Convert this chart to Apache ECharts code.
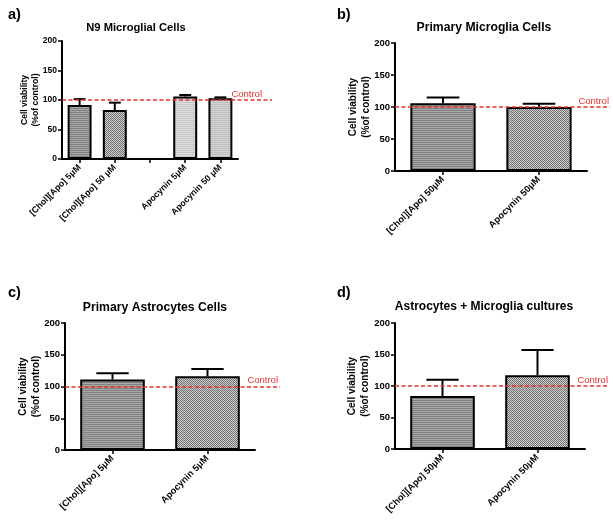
<!DOCTYPE html>
<html>
<head>
<meta charset="utf-8">
<script src="https://cdn.jsdelivr.net/npm/echarts@6/dist/echarts.min.js"></script>
<style>html,body{margin:0;padding:0;background:#fff;}#c{width:613px;height:526px;}</style>
</head>
<body>
<div id="c"></div>
<script>
// ---- data ----
const catsA = ['[Chol][Apo] 5\u03bcM', '[Chol][Apo] 50 \u03bcM', '', 'Apocynin 5\u03bcM', 'Apocynin 50 \u03bcM'];
const valsA = [91.5, 83, '-', 106, 103];
const errsA = [10, 12.5, '-', 2.5, 1.5];

const catsB = ['[Chol][Apo] 50\u03bcM', 'Apocynin 50\u03bcM'];
const valsB = [106, 100];
const errsB = [9, 5];

const catsC = ['[Chol][Apo] 5\u03bcM', 'Apocynin 5\u03bcM'];
const valsC = [111, 116];
const errsC = [10, 11.5];

const catsD = ['[Chol][Apo] 50\u03bcM', 'Apocynin 50\u03bcM'];
const valsD = [84, 117];
const errsD = [26, 40];

const yTicks = [0, 50, 100, 150, 200];
const controlValue = 100;
const titles = ['N9 Microglial Cells', 'Primary Microglia Cells', 'Primary Astrocytes Cells', 'Astrocytes + Microglia cultures'];
const panelLabels = ['a)', 'b)', 'c)', 'd)'];
const yName = 'Cell viability\n(%of control)';

// ---- patterns ----
function stripes(c1, c2) {
  const cv = document.createElement('canvas'); cv.width = 4; cv.height = 2;
  const g = cv.getContext('2d');
  g.fillStyle = c1; g.fillRect(0, 0, 4, 1);
  g.fillStyle = c2; g.fillRect(0, 1, 4, 1);
  return { image: cv, repeat: 'repeat' };
}
function checker(c1, c2) {
  const cv = document.createElement('canvas'); cv.width = 2; cv.height = 2;
  const g = cv.getContext('2d');
  g.fillStyle = c1; g.fillRect(0, 0, 2, 2);
  g.fillStyle = c2; g.fillRect(0, 0, 1, 1); g.fillRect(1, 1, 1, 1);
  return { image: cv, repeat: 'repeat' };
}
const darkStripe = stripes('#808080', '#a8a8a8');
const darkCheck = checker('#cfcfcf', '#727272');
const lightStripe = stripes('#c6c6c6', '#dedede');
const lightStripe2 = stripes('#c0c0c0', '#d2d2d2');

const FONT = 'Liberation Sans, Arial, sans-serif';

const panels = [
  { cats: catsA, vals: valsA, errs: errsA, fills: [darkStripe, darkCheck, null, lightStripe, lightStripe2],
    grid: { left: 62, top: 41, width: 176, height: 118 }, ext: 210, nameGap: 21, titleSize: 11.2, ctlDist: [10, 1],
    fTick: 8.5, fName: 8.6, lhName: 11, fCat: 8.8 },
  { cats: catsB, vals: valsB, errs: errsB, fills: [darkStripe, darkCheck],
    grid: { left: 395, top: 43, width: 192, height: 128 }, ext: 215, nameGap: 23, titleSize: 12.2, ctlDist: [1, 1],
    fTick: 9.5, fName: 10, lhName: 12.5, fCat: 9.3 },
  { cats: catsC, vals: valsC, errs: errsC, fills: [darkStripe, darkCheck],
    grid: { left: 65, top: 323, width: 190, height: 127 }, ext: 215, nameGap: 23, titleSize: 12.2, ctlDist: [2, 1],
    fTick: 9.5, fName: 10, lhName: 12.5, fCat: 9.3 },
  { cats: catsD, vals: valsD, errs: errsD, fills: [darkStripe, darkCheck],
    grid: { left: 395, top: 323, width: 190, height: 126 }, ext: 214, nameGap: 24, titleSize: 12, ctlDist: [1, 1],
    fTick: 9.5, fName: 10, lhName: 12.5, fCat: 9.3 }
];

const titlePos = [
  { x: 131, y: 17 }, { x: 479, y: 17 }, { x: 150, y: 297 }, { x: 479, y: 296 }
];
const labelPos = [
  { x: 3, y: 2 }, { x: 332, y: 2 }, { x: 3, y: 280 }, { x: 332, y: 280 }
];

const grid = [], xAxis = [], yAxis = [], series = [], title = [];

panels.forEach((p, i) => {
  const gi = grid.length;
  grid.push(Object.assign({}, p.grid));
  grid.push({ left: p.grid.left, top: p.grid.top, width: p.ext, height: p.grid.height });

  xAxis.push({
    type: 'category', gridIndex: gi, data: p.cats,
    axisLine: { lineStyle: { color: '#000', width: 2 } },
    axisTick: { show: true, alignWithLabel: true, length: 4, lineStyle: { color: '#000', width: 1.5 } },
    axisLabel: { rotate: 45, color: '#000', fontFamily: FONT, fontWeight: 'bold', fontSize: p.fCat, margin: 7, interval: 0 }
  });
  xAxis.push({ type: 'value', gridIndex: gi + 1, min: 0, max: 1, show: false });

  yAxis.push({
    type: 'value', gridIndex: gi, min: yTicks[0], max: yTicks[yTicks.length - 1], interval: yTicks[1] - yTicks[0],
    name: yName, nameLocation: 'middle', nameGap: p.nameGap, nameMoveOverlap: false,
    nameTextStyle: { color: '#000', fontFamily: FONT, fontWeight: 'bold', fontSize: p.fName, lineHeight: p.lhName },
    axisLine: { show: true, lineStyle: { color: '#000', width: 2 } },
    axisTick: { show: true, length: 4, lineStyle: { color: '#000', width: 1.5 } },
    axisLabel: { color: '#000', fontFamily: FONT, fontWeight: 'bold', fontSize: p.fTick, margin: 5 },
    splitLine: { show: false }
  });
  yAxis.push({ type: 'value', gridIndex: gi + 1, min: yTicks[0], max: yTicks[yTicks.length - 1], show: false });

  series.push({
    type: 'bar', xAxisIndex: gi, yAxisIndex: gi, barWidth: '68%',
    data: p.vals.map((v, k) => ({ value: v, itemStyle: { color: p.fills[k] || '#ccc', borderColor: '#000', borderWidth: 2 } })),
    z: 2, animation: false
  });
  series.push({
    type: 'custom', xAxisIndex: gi, yAxisIndex: gi, z: 1, animation: false,
    data: p.vals.map((v, k) => [k, v, p.errs[k]]).filter(d => d[1] !== '-'),
    encode: { x: 0, y: [1, 2] },
    renderItem: function (params, api) {
      const x = api.value(0), v = api.value(1), e = api.value(2);
      const p0 = api.coord([x, v]);
      const p1 = api.coord([x, v + e]);
      const bw = api.size([1, 0])[0] * 0.68;
      const st = { stroke: '#000', lineWidth: 2 };
      return {
        type: 'group', children: [
          { type: 'line', shape: { x1: p0[0], y1: p0[1], x2: p1[0], y2: p1[1] }, style: st },
          { type: 'line', shape: { x1: p1[0] - bw / 4, y1: p1[1], x2: p1[0] + bw / 4, y2: p1[1] }, style: st }
        ]
      };
    }
  });
  series.push({
    type: 'line', xAxisIndex: gi + 1, yAxisIndex: gi + 1, data: [], z: 5, animation: false,
    markLine: {
      symbol: 'none', silent: true, animation: false,
      lineStyle: { color: '#e8312f', type: [4, 2.5], width: 1.5 },
      label: { show: true, position: 'insideEndTop', formatter: 'Control', color: '#e8312f', fontFamily: FONT, fontSize: 9.5, distance: p.ctlDist },
      data: [{ yAxis: controlValue }]
    }
  });

  title.push({
    text: titles[i], left: titlePos[i].x, top: titlePos[i].y, textAlign: 'center',
    textStyle: { fontFamily: FONT, fontWeight: 'bold', fontSize: p.titleSize, color: '#000' }
  });
  title.push({
    text: panelLabels[i], left: labelPos[i].x, top: labelPos[i].y,
    textStyle: { fontFamily: FONT, fontWeight: 'bold', fontSize: 14.5, color: '#000' }
  });
});

const chart = echarts.init(document.getElementById('c'), null, { renderer: 'canvas' });
chart.setOption({ backgroundColor: '#fff', animation: false, title, grid, xAxis, yAxis, series });
</script>
</body>
</html>
